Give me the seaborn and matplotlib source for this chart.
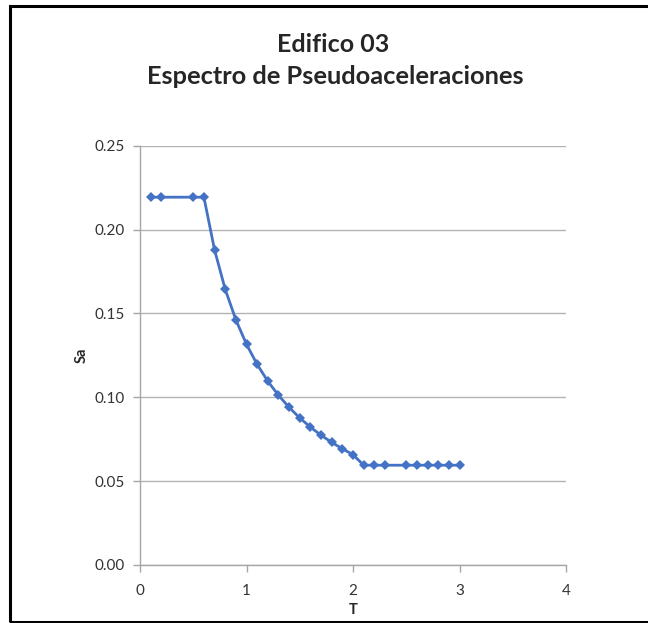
import matplotlib
matplotlib.use("Agg")
import matplotlib.pyplot as plt
import seaborn as sns
import pandas as pd
from matplotlib.patches import Rectangle

# spectrum values
T = [0.1, 0.2, 0.5, 0.6, 0.7, 0.8, 0.9, 1.0, 1.1, 1.2, 1.3, 1.4, 1.5, 1.6,
     1.7, 1.8, 1.9, 2.0, 2.1, 2.2, 2.3, 2.5, 2.6, 2.7, 2.8, 2.9, 3.0]
Sa = [0.2193, 0.2193, 0.2193, 0.2193, 0.1879, 0.1644, 0.1462, 0.1316, 0.1196,
      0.1096, 0.1012, 0.0940, 0.0877, 0.0822, 0.0774, 0.0731, 0.0693, 0.0658,
      0.0595, 0.0595, 0.0595, 0.0595, 0.0595, 0.0595, 0.0595, 0.0595, 0.0595]

df = pd.DataFrame({"T": T, "Sa": Sa})

sns.set_style("white")
plt.rcParams["font.family"] = ["Lato", "DejaVu Sans"]

fig = plt.figure(figsize=(6.48, 6.23), dpi=100)
ax = fig.add_axes([140/648, 1-565/623, 426/648, (565-145.7)/623])

sns.lineplot(data=df, x="T", y="Sa", ax=ax, color="#4472C4", linewidth=2,
             marker="D", markersize=5.5, markeredgewidth=0, sort=False)

ax.set_xlim(0, 4)
ax.set_ylim(0, 0.25)
ax.set_xticks([0, 1, 2, 3, 4])
ax.set_yticks([0, 0.05, 0.10, 0.15, 0.20, 0.25])
ax.set_yticklabels([f"{v:.2f}" for v in ax.get_yticks()])
ax.yaxis.grid(True, color="#b3b3b3", linewidth=1)
ax.set_axisbelow(True)
for s in ["top", "right"]:
    ax.spines[s].set_visible(False)
for s in ["left", "bottom"]:
    ax.spines[s].set_color("#a6a6a6")
    ax.spines[s].set_linewidth(1)
ax.tick_params(axis="both", direction="out", length=5, width=1, color="#a6a6a6",
               labelsize=11, labelcolor="#333333", pad=6, left=True, bottom=True)
ax.tick_params(axis="x", pad=9)

ax.set_xlabel("T", fontsize=10.5, fontweight="bold", labelpad=3)
ax.set_ylabel("Sa", fontsize=10.5, fontweight="bold", labelpad=4)

fig.text(333/648, 1-44/623, "Edifico 03", ha="center", va="center",
         fontsize=18, fontweight="bold")
fig.text(335/648, 1-76/623, "Espectro de Pseudoaceleraciones", ha="center",
         va="center", fontsize=18.3, fontweight="bold")

# outer chart frame
fig.patches.append(Rectangle((10/648, 1.5/623), 650/648, 616/623, fill=False,
                             edgecolor="black", linewidth=2.2,
                             transform=fig.transFigure, figure=fig))

fig.savefig("out.png", dpi=100)
